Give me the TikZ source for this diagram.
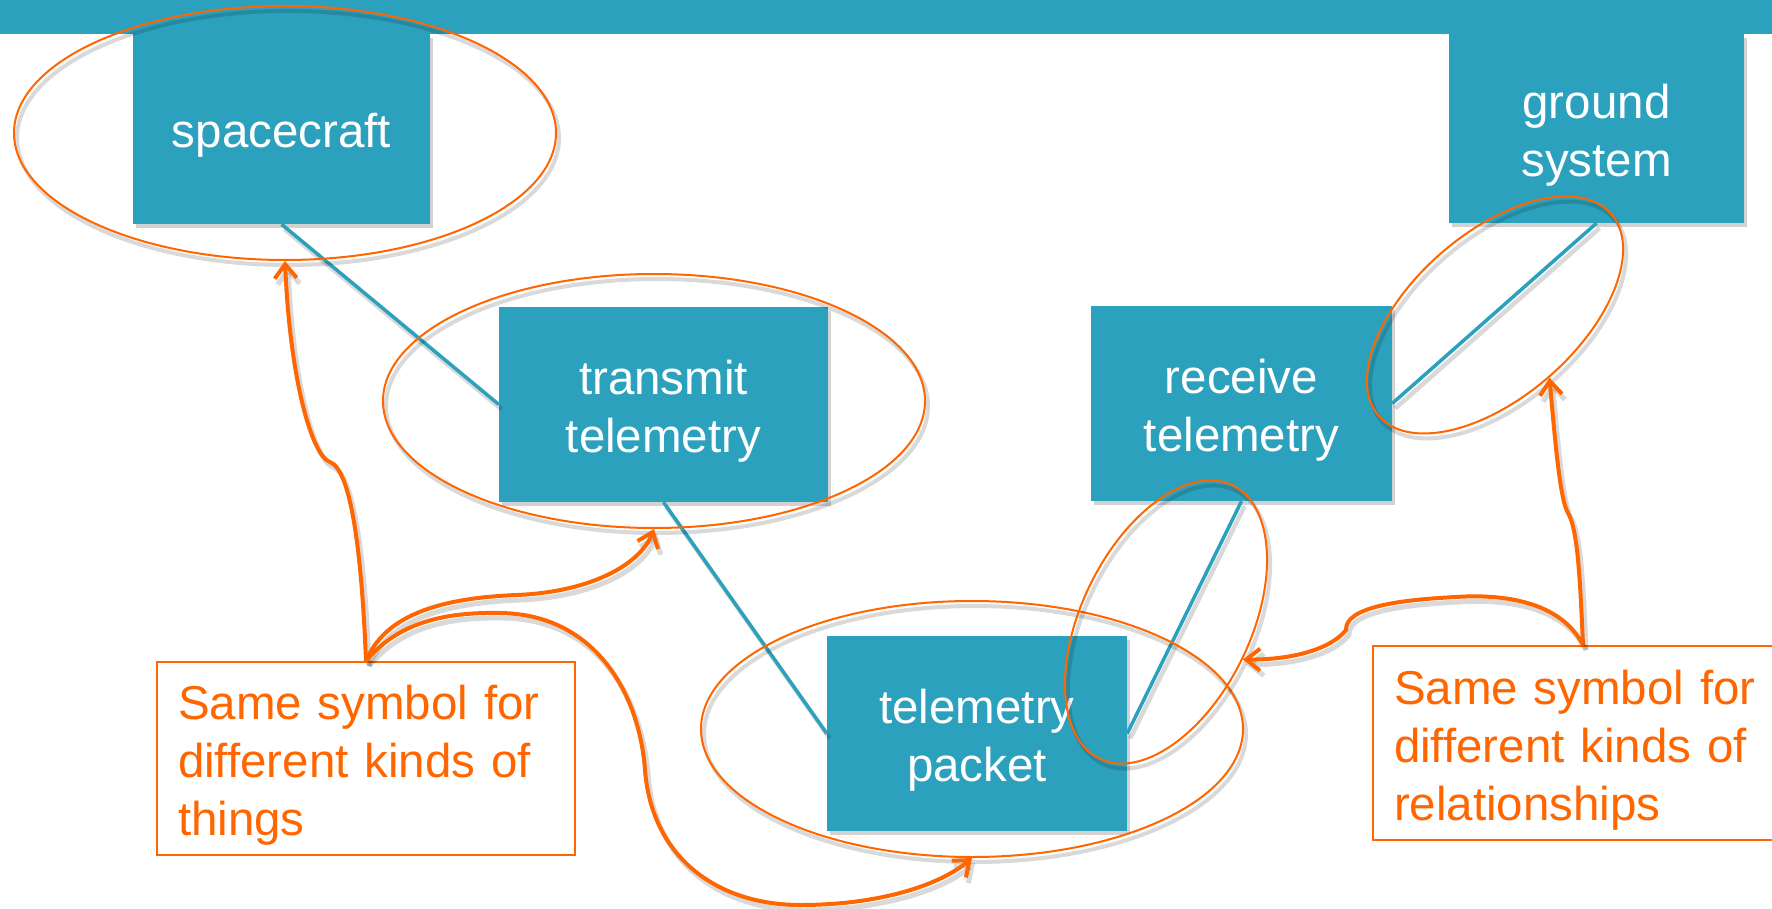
\documentclass[tikz,border=0pt]{standalone}
\usepackage{fontspec}
\setmainfont{Liberation Sans}
\usetikzlibrary{shapes.geometric,arrows.meta,shadows}
\definecolor{tealbox}{RGB}{44,161,190}
\definecolor{orng}{RGB}{255,102,0}
\newcommand\diagfont{\fontsize{47.5pt}{58pt}\selectfont}
\newcommand\lnstrut{\rule[-10pt]{0pt}{58pt}}
\begin{document}
\begin{tikzpicture}[x=1pt,y=-1pt,
  entity/.style={rectangle, fill=tealbox, text=white, font=\diagfont, align=center, inner sep=0pt,
    drop shadow={shadow xshift=3pt, shadow yshift=-4pt, opacity=0.35}},
  link/.style={draw=tealbox, line width=3.5pt,
    preaction={draw=black, draw opacity=0.15, line width=4.5pt, transform canvas={xshift=3pt,yshift=-5pt}}},
  ring/.style={ellipse, draw=orng, line width=2pt, inner sep=0pt,
    preaction={draw=black, draw opacity=0.15, line width=4pt, transform canvas={xshift=3pt,yshift=-5pt}}},
  note/.style={rectangle, draw=orng, line width=2pt, text=orng, font=\diagfont, align=left, inner xsep=21pt, inner ysep=0pt, fill=white},
  pointer/.style={draw=orng, line width=4pt, -{Straight Barb[length=14pt,width=22pt]},
    preaction={draw=black, draw opacity=0.15, line width=5pt, transform canvas={xshift=3pt,yshift=-5pt}}}
]
\useasboundingbox (0,0) rectangle (1772,909);
\fill[white] (0,0) rectangle (1772,909);

% entity boxes
\node[entity, minimum width=297pt, minimum height=190pt] (sc) at (281.5,129) {\lnstrut spacecraft};
\node[entity, minimum width=329pt, minimum height=195pt] (tx) at (663.5,404.5) {\lnstrut transmit\\\lnstrut telemetry};
\node[entity, minimum width=295pt, minimum height=189pt] (gs) at (1596.5,128.5) {\lnstrut ground\\\lnstrut system};
\node[entity, minimum width=301pt, minimum height=195pt] (rx) at (1241.5,403.5) {\lnstrut receive\\\lnstrut telemetry};
\node[entity, minimum width=300pt, minimum height=195pt] (pk) at (977,733.5) {\lnstrut telemetry\\\lnstrut packet};

% top bar
\fill[tealbox] (0,0) rectangle (1772,34);

% connectors
\draw[link] (sc.south) -- (tx.west);
\draw[link] (tx.south) -- (pk.west);
\draw[link] (rx.south) -- (pk.east);
\draw[link] (gs.south) -- (rx.east);

% highlight ellipses
\node[ring, minimum width=542pt, minimum height=254pt] (e1) at (285,133) {};
\node[ring, minimum width=542pt, minimum height=254pt] (e2) at (654,401) {};
\node[ring, minimum width=542pt, minimum height=256pt] (e3) at (972,729) {};
\node[ring, minimum width=308pt, minimum height=164pt, rotate=41] (e4) at (1495,315) {};
\node[ring, minimum width=304pt, minimum height=169pt, rotate=64] (e5) at (1166,622) {};

% annotation boxes
\node[note, minimum width=418pt, minimum height=193pt, text width=376pt] (n1) at (366,758.5)
  {\lnstrut Same symbol for\\\lnstrut different kinds of\\\lnstrut things};
\node[note, minimum width=420pt, minimum height=194pt, text width=378pt] (n2) at (1583,743)
  {\lnstrut Same symbol for\\\lnstrut different kinds of\\\lnstrut relationships};

% pointers
\draw[pointer] (n1.north) .. controls (362,560) and (352,470) .. (330,462)
  .. controls (312,456) and (290,380) .. (e1.south);
\draw[pointer] (n1.north) .. controls (385,615) and (440,598) .. (517,595)
  .. controls (590,592) and (640,565) .. (e2.south);
\draw[pointer] (n1.north) .. controls (400,620) and (450,612) .. (501,613)
  .. controls (600,615) and (640,700) .. (645,770)
  .. controls (652,860) and (720,905) .. (800,905)
  .. controls (880,905) and (940,885) .. (e3.south);
\draw[pointer] (n2.north) .. controls (1580,580) and (1578,530) .. (1568,513)
  .. controls (1560,500) and (1555,440) .. (e4.south);
\draw[pointer] (n2.north) .. controls (1560,600) and (1500,594) .. (1456,597)
  .. controls (1395,600) and (1345,608) .. (1346,630)
  .. controls (1330,650) and (1290,660) .. (e5.south);
\end{tikzpicture}
\end{document}
